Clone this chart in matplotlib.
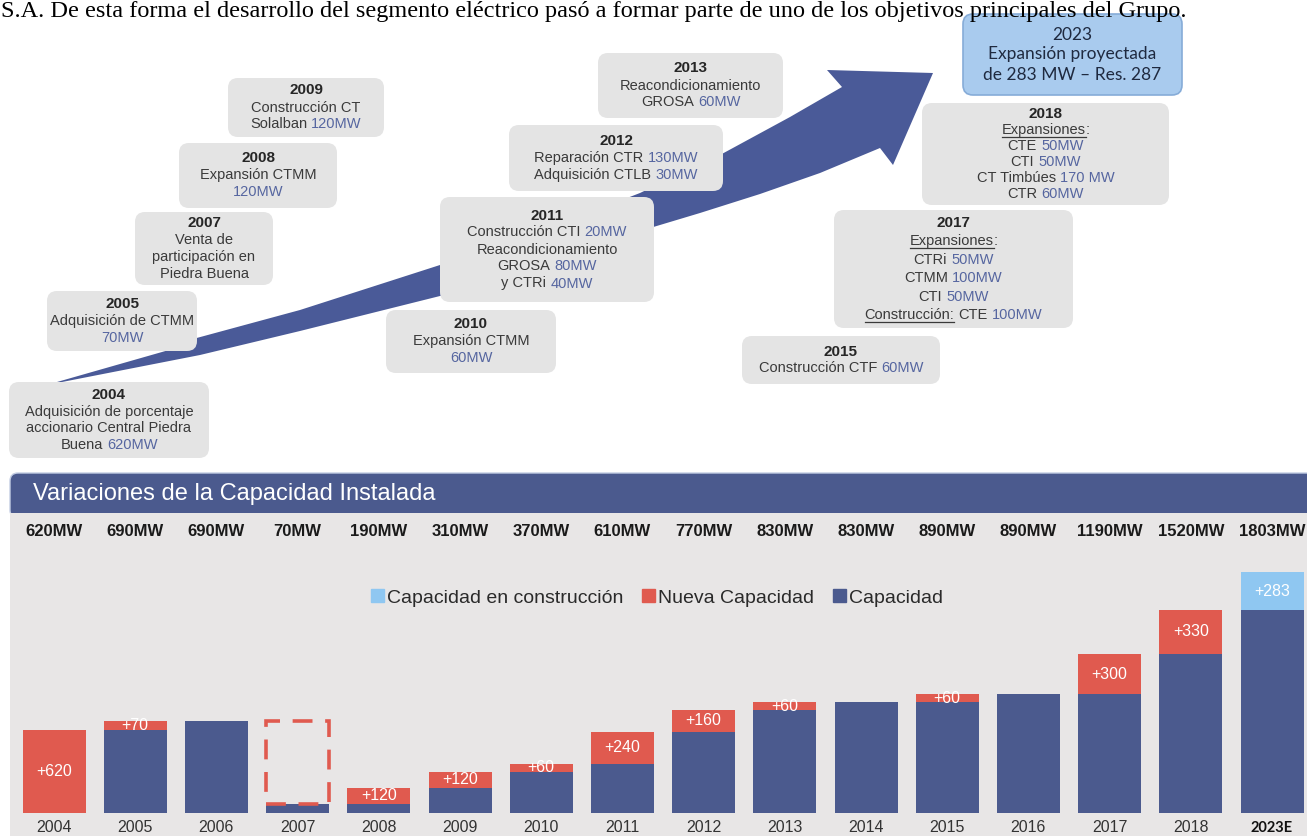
import matplotlib
matplotlib.use("Agg")
import matplotlib.pyplot as plt
from matplotlib.patches import FancyBboxPatch, Polygon, Rectangle, Patch

# ---- data ------------------------------------------------------------------
years    = ["2004", "2005", "2006", "2007", "2008", "2009", "2010", "2011",
            "2012", "2013", "2014", "2015", "2016", "2017", "2018", "2023E"]
base_mw  = [0, 620, 690, 70, 70, 190, 310, 370, 610, 770, 830, 830, 890, 890, 1190, 1520]
new_mw   = [620, 70, 0, 0, 120, 120, 60, 240, 160, 60, 0, 60, 0, 300, 330, 0]
build_mw = [0, 0, 0, 0, 0, 0, 0, 0, 0, 0, 0, 0, 0, 0, 0, 283]
total_mw = [b + n + c for b, n, c in zip(base_mw, new_mw, build_mw)]
sold_year = "2007"

legend_labels = ["Capacidad en construcción", "Nueva Capacidad", "Capacidad"]

# timeline boxes: (x0, y0, x1, y1, line spacing, lines)
#   "|" splits segments, "*" = MW value (blue), "_" = underlined
timeline = [
    (228, 78, 384, 137, 17, ["2009", "Construcción CT", "Solalban |*120MW"]),
    (179, 143, 337, 208, 17, ["2008", "Expansión CTMM", "*120MW"]),
    (135, 212, 273, 285, 17, ["2007", "Venta de", "participación en", "Piedra Buena"]),
    (47, 291, 197, 351, 17, ["2005", "Adquisición de CTMM", "*70MW"]),
    (9, 382, 209, 458, 16.7, ["2004", "Adquisición de porcentaje",
                              "accionario Central Piedra", "Buena |*620MW"]),
    (598, 53, 783, 118, 17, ["2013", "Reacondicionamiento", "GROSA |*60MW"]),
    (509, 125, 723, 191, 17, ["2012", "Reparación CTR |*130MW", "Adquisición CTLB |*30MW"]),
    (440, 197, 654, 302, 17, ["2011", "Construcción CTI |*20MW", "Reacondicionamiento",
                              "GROSA |*80MW", "y CTRi |*40MW"]),
    (386, 310, 556, 373, 17, ["2010", "Expansión CTMM", "*60MW"]),
    (922, 103, 1169, 205, 16.2, ["2018", "_Expansiones|:", "CTE |*50MW", "CTI |*50MW",
                                 "CT Timbúes |*170 MW", "CTR |*60MW"]),
    (834, 210, 1073, 328, 18.5, ["2017", "_Expansiones|:", "CTRi |*50MW", "CTMM |*100MW",
                                 "CTI |*50MW", "_Construcción:| CTE |*100MW"]),
    (742, 336, 940, 384, 17, ["2015", "Construcción CTF |*60MW"]),
]
projected = (963, 14, 1182, 95, ["2023", "Expansión proyectada", "de 283 MW – Res. 287"])

intro = ("S.A. De esta forma el desarrollo del segmento eléctrico pasó a formar "
         "parte de uno de los objetivos principales del Grupo.")

# ---- style -----------------------------------------------------------------
SANS = ["Liberation Sans", "DejaVu Sans"]
NAVY = "#4b5a8e"
ARROW = "#4a5a98"
RED = "#e05a4f"
LIGHT = "#8fc7f1"
PANEL = "#e8e6e6"
BOX = "#e4e4e4"
TXT = "#3a3a3a"
MW_BLUE = "#5666a0"

W, H = 1307, 836
fig = plt.figure(figsize=(W / 100, H / 100), dpi=100)
ax = fig.add_axes([0, 0, 1, 1])
ax.set_xlim(0, W)
ax.set_ylim(H, 0)
ax.axis("off")
renderer = fig.canvas.get_renderer()

ax.text(1, 1, intro, family=["Liberation Serif", "DejaVu Serif"], fontsize=17.5,
        color="black", va="top", ha="left", zorder=5)

# ---- the big arrow ---------------------------------------------------------
upper = [(57, 382), (190, 344), (193, 339), (300, 310), (440, 265), (560, 224),
         (640, 193), (720, 155), (790, 117), (842, 87)]
head = [(827, 70), (933, 73), (893, 165)]
lower = [(880, 148), (820, 173), (760, 194), (700, 213), (640, 231), (560, 256),
         (440, 296), (300, 331), (200, 355), (57, 383)]
ax.add_patch(Polygon(upper + head + lower, closed=True, facecolor=ARROW,
                     edgecolor="none", zorder=1))


def seg_line(cx, y, line, size, color, bold=False, family=SANS):
    parts = []
    for raw in line.split("|"):
        style = "txt"
        if raw.startswith("*"):
            style, raw = "mw", raw[1:]
        elif raw.startswith("_"):
            style, raw = "ul", raw[1:]
        parts.append((raw, style))
    sp = (ax.text(0, 0, "x x", fontsize=size, family=family).get_window_extent(renderer).width
          - ax.text(0, 0, "xx", fontsize=size, family=family).get_window_extent(renderer).width)
    for t in ax.texts[-2:]:
        t.remove()
    items = []
    for raw, style in parts:
        lead = len(raw) - len(raw.lstrip(" "))
        trail = len(raw) - len(raw.rstrip(" "))
        t = ax.text(0, y, raw.strip(), fontsize=size, family=family,
                    fontweight="bold" if bold else "normal",
                    color=MW_BLUE if style == "mw" else color,
                    ha="left", va="center", zorder=4)
        w = t.get_window_extent(renderer).width
        items.append((t, style, lead * sp, w, trail * sp))
    total = sum(a + b + c for _, _, a, b, c in items)
    x = cx - total / 2
    for t, style, a, w, c in items:
        x += a
        t.set_x(x)
        if style == "ul":
            ax.plot([x, x + w], [y + 7, y + 7], color=color, lw=0.9, zorder=4)
        x += w + c


for x0, y0, x1, y1, step, lines in timeline:
    ax.add_patch(FancyBboxPatch((x0, y0), x1 - x0, y1 - y0,
                                boxstyle="round,pad=0,rounding_size=10",
                                facecolor=BOX, edgecolor="none", zorder=2))
    cx, cy = (x0 + x1) / 2, (y0 + y1) / 2
    n = len(lines)
    for i, line in enumerate(lines):
        yy = cy + (i - (n - 1) / 2) * step
        if i == 0:
            seg_line(cx, yy, line, 11, "#262626", bold=True)
        else:
            seg_line(cx, yy, line, 10.5, TXT)

x0, y0, x1, y1, lines = projected
ax.add_patch(FancyBboxPatch((x0, y0), x1 - x0, y1 - y0,
                            boxstyle="round,pad=0,rounding_size=10",
                            facecolor="#a9cbee", edgecolor="#86acd8", lw=1.2, zorder=2))
for i, line in enumerate(lines):
    ax.text((x0 + x1) / 2, (y0 + y1) / 2 + (i - 1) * 20, line,
            family=["Lato", "DejaVu Sans"], fontsize=12.5, color="#1f2a40",
            ha="center", va="center", zorder=4)

# ---- header band -----------------------------------------------------------
ax.add_patch(FancyBboxPatch((10, 473), W + 20, 45,
                            boxstyle="round,pad=0,rounding_size=8",
                            facecolor=NAVY, edgecolor="#c3cde3", lw=1, zorder=2))
ax.text(33, 494, "Variaciones de la Capacidad Instalada", family=SANS,
        fontsize=17, color="white", ha="left", va="center", zorder=4)

# ---- bar chart -------------------------------------------------------------
PX0, STEP = 54, 81.2          # first bar centre and pitch (pixels)
BASE_Y = 813                  # bar baseline (pixels)
MW_PER_PX = 7.485
axb = fig.add_axes([10 / W, 0, (W - 10) / W, 323 / H])
axb.set_facecolor(PANEL)
axb.set_xlim(-(PX0 - 10) / STEP, (W - PX0) / STEP)
axb.set_ylim(-(H - BASE_Y) * MW_PER_PX, (BASE_Y - 513) * MW_PER_PX)
for s in axb.spines.values():
    s.set_visible(False)
axb.set_xticks([])
axb.set_yticks([])

xs = list(range(len(years)))
bw = 63 / STEP
stack2 = [b + n for b, n in zip(base_mw, new_mw)]
axb.bar(xs, base_mw, bw, color=NAVY, zorder=2)
axb.bar(xs, new_mw, bw, bottom=base_mw, color=RED, zorder=2)
axb.bar(xs, build_mw, bw, bottom=stack2, color=LIGHT, zorder=2)

i7 = years.index(sold_year)
axb.add_patch(Rectangle((i7 - bw / 2, total_mw[i7]), bw, total_mw[i7 - 1] - total_mw[i7],
                        fill=False, edgecolor=RED, lw=2.6, linestyle=(0, (5.5, 3.5)), zorder=3))

for i in xs:
    if new_mw[i]:
        axb.text(i, base_mw[i] + new_mw[i] / 2, f"+{new_mw[i]}", color="white",
                 family=SANS, fontsize=11.5, ha="center", va="center", zorder=4)
    if build_mw[i]:
        axb.text(i, stack2[i] + build_mw[i] / 2, f"+{build_mw[i]}", color="white",
                 family=SANS, fontsize=11.5, ha="center", va="center", zorder=4)
    axb.text(i, (BASE_Y - 532) * MW_PER_PX, f"{total_mw[i]}MW", color="#1a1a1a",
             family=SANS, fontsize=12, fontweight="bold", ha="center", va="center")
    last = i == len(years) - 1
    axb.text(i, -(828 - BASE_Y) * MW_PER_PX, years[i],
             color="#111111" if last else "#333333",
             family=["Lato", "DejaVu Sans"] if last else SANS,
             fontweight="bold" if last else "normal",
             fontsize=10.5 if last else 11.5, ha="center", va="center")

handles = [Patch(color=LIGHT), Patch(color=RED), Patch(color=NAVY)]
leg = axb.legend(handles, legend_labels, ncol=3, frameon=False, loc="center",
                 bbox_to_anchor=(657 / W, 1 - 598 / H), bbox_transform=fig.transFigure,
                 prop={"family": SANS, "size": 14}, handlelength=0.65, handleheight=0.65,
                 handletextpad=0.15, columnspacing=1.0)
for t in leg.get_texts():
    t.set_color("#2a2a2a")

fig.savefig("out.png", dpi=100)
